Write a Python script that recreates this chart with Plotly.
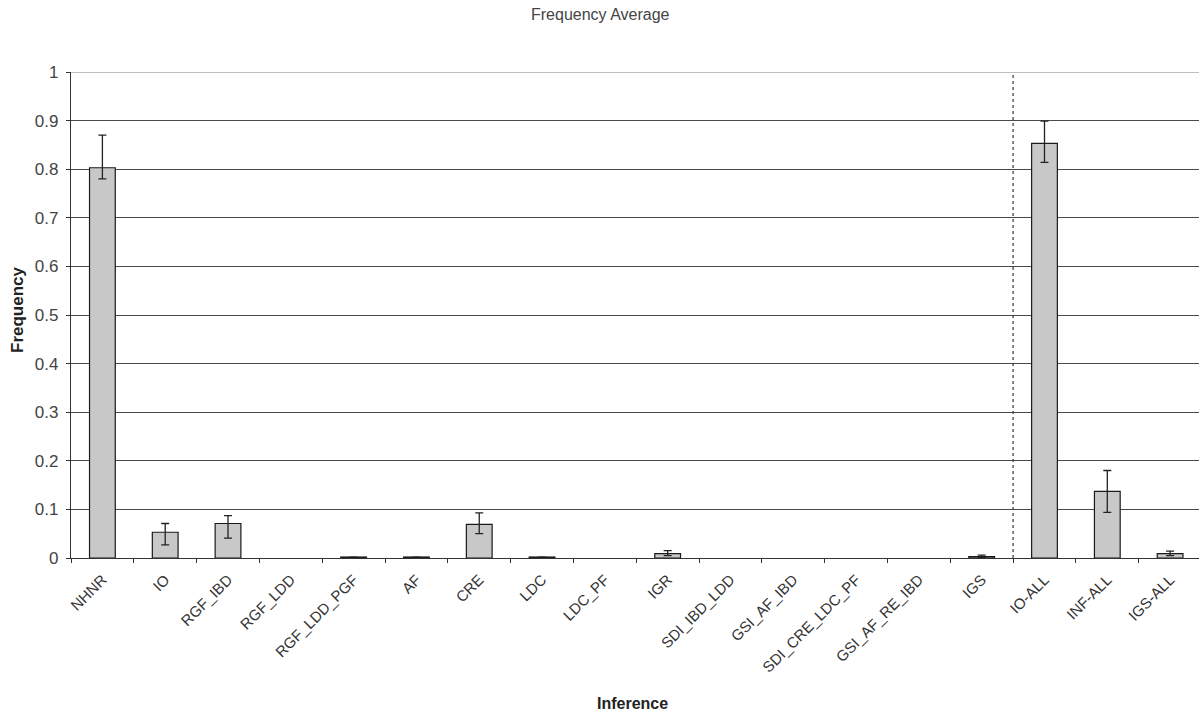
import plotly.graph_objects as go

# Inference categories and their average frequencies (None = no observations)
categories = ["NHNR", "IO", "RGF_IBD", "RGF_LDD", "RGF_LDD_PGF", "AF", "CRE", "LDC",
              "LDC_PF", "IGR", "SDI_IBD_LDD", "GSI_AF_IBD", "SDI_CRE_LDC_PF",
              "GSI_AF_RE_IBD", "IGS", "IO-ALL", "INF-ALL", "IGS-ALL"]
frequency = [0.803, 0.053, 0.071, None, 0.002, 0.002, 0.069, 0.002,
             None, 0.009, None, None, None, None, 0.003, 0.853, 0.137, 0.009]
# asymmetric error extents (above / below the mean)
err_plus = [0.067, 0.018, 0.016, None, None, None, 0.024, None,
            None, 0.006, None, None, None, None, 0.003, 0.046, 0.043, 0.005]
err_minus = [0.023, 0.026, 0.030, None, None, None, 0.019, None,
             None, 0.004, None, None, None, None, 0.002, 0.039, 0.043, 0.004]
y_ticks = [0, 0.1, 0.2, 0.3, 0.4, 0.5, 0.6, 0.7, 0.8, 0.9, 1]
y_tick_text = ["0", "0.1", "0.2", "0.3", "0.4", "0.5", "0.6", "0.7", "0.8", "0.9", "1"]

FONT = "Liberation Sans, Arial, sans-serif"
W, H = 1199, 715
ML, MR, MT, MB = 71, 0, 72, 157
PW, PH = W - ML - MR, H - MT - MB


def px_to_paper(px, py):
    """Pixel position on the page -> paper coordinates."""
    return (px - ML) / PW, (H - MB - py) / PH


fig = go.Figure()
fig.add_trace(go.Bar(
    x=categories,
    y=frequency,
    marker=dict(color="#c8c8c8", line=dict(color="#1a1a1a", width=1.2)),
    error_y=dict(type="data", symmetric=False, array=err_plus, arrayminus=err_minus,
                 color="#222222", thickness=1.3, width=4),
    showlegend=False,
))

# dotted separator between individual inferences and the combined groups
fig.add_shape(type="line", xref="x", yref="y", x0=14.5, x1=14.5, y0=0, y1=1,
              line=dict(color="#333333", width=1.2, dash="3px,3px"), layer="above")
# lighter top border line of the plot area
fig.add_shape(type="line", xref="paper", yref="y", x0=0, x1=1, y0=1, y1=1,
              line=dict(color="#a8a8a8", width=1.3), layer="below")

tx, ty = px_to_paper(600, 15)
ix, iy = px_to_paper(632, 703)
fx, fy = px_to_paper(17, 310)

fig.update_layout(
    width=W, height=H,
    margin=dict(l=ML, r=MR, t=MT, b=MB),
    plot_bgcolor="white", paper_bgcolor="white",
    bargap=0.59,
    font=dict(family=FONT, color="#333333"),
    annotations=[
        dict(text="Frequency Average", x=tx, y=ty, xref="paper", yref="paper",
             xanchor="center", yanchor="middle", showarrow=False,
             font=dict(size=16, color="#444444")),
        dict(text="<b>Inference</b>", x=ix, y=iy, xref="paper", yref="paper",
             xanchor="center", yanchor="middle", showarrow=False,
             font=dict(size=16, color="#222222")),
        dict(text="<b>Frequency</b>", x=fx, y=fy, xref="paper", yref="paper",
             textangle=-90, xanchor="center", yanchor="middle", showarrow=False,
             font=dict(size=17, color="#222222")),
    ],
)

fig.update_xaxes(
    type="category", range=[-0.5, 17.46],
    tickangle=-45, tickfont=dict(size=15, color="#333333"), ticklabelstandoff=6,
    showgrid=False, showline=True, linecolor="#333333", linewidth=1.3,
    ticks="outside", ticklen=4, tickcolor="#333333", tickson="boundaries",
)
fig.update_yaxes(
    range=[0, 1], tickvals=y_ticks, ticktext=y_tick_text,
    tickfont=dict(size=17, color="#444444"), ticklabelstandoff=4,
    showgrid=True, gridcolor="#4a4a4a", gridwidth=1.3,
    showline=True, linecolor="#333333", linewidth=1.3,
    ticks="outside", ticklen=4, tickcolor="#333333",
    zeroline=False,
)

fig.write_html("out.html")
